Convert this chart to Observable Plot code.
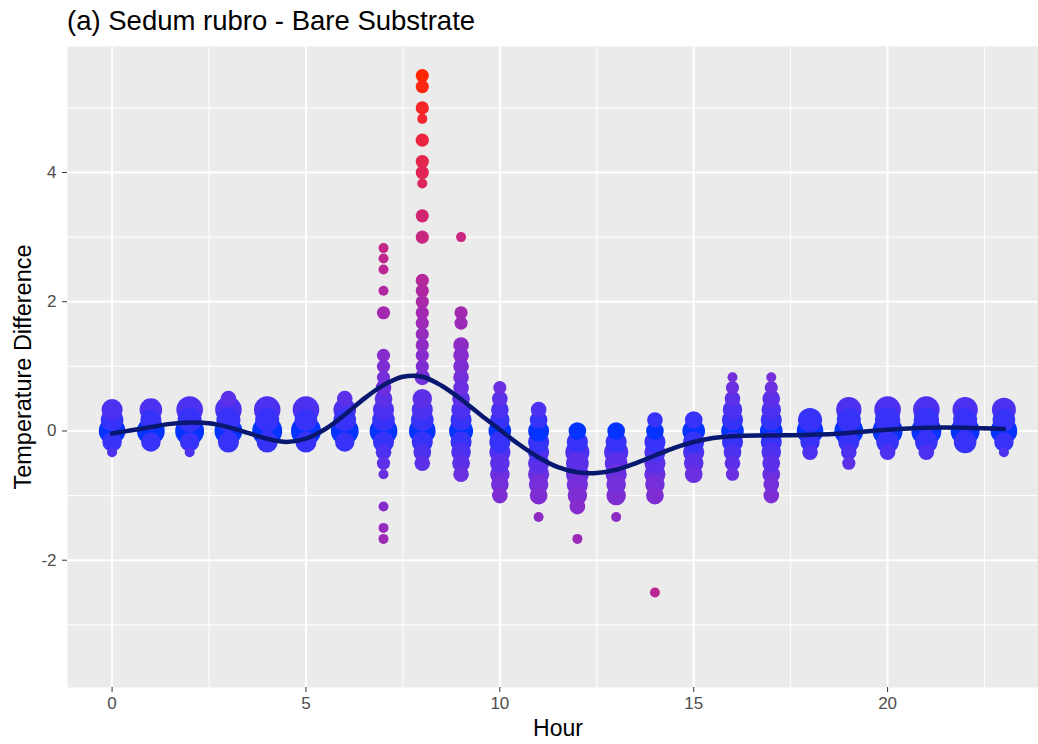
<!DOCTYPE html>
<html>
<head>
<meta charset="utf-8">
<script src="https://cdn.jsdelivr.net/npm/d3@7"></script>
<script src="https://cdn.jsdelivr.net/npm/@observablehq/plot@0.6"></script>
<style>
html, body { margin: 0; padding: 0; background: #fff; overflow: hidden; }
#title { height: 40px; box-sizing: border-box; padding: 9px 0 0 67px; font: 27.5px/24px "Liberation Sans", Arial, sans-serif; color: #000; white-space: nowrap; }
</style>
</head>
<body>
<div id="title">(a) Sedum rubro - Bare Substrate</div>
<div id="chart"></div>
<script>
// Hours of the day
const hours = [0,1,2,3,4,5,6,7,8,9,10,11,12,13,14,15,16,17,18,19,20,21,22,23];

// Distinct temperature differences observed at each hour
const values = [
  [0.33,0.17,0,-0.17,-0.33],
  [0.33,0.17,0,-0.17],
  [0.33,0.17,0,-0.17,-0.33],
  [0.5,0.33,0.17,0,-0.17],
  [0.33,0.17,0,-0.17],
  [0.33,0.17,0,-0.17],
  [0.5,0.33,0.17,0,-0.17],
  [2.83,2.67,2.5,2.17,1.83,1.17,1,0.83,0.67,0.5,0.33,0.17,0,-0.17,-0.33,-0.5,-0.67,-1.17,-1.5,-1.67],
  [5.5,5.33,5,4.83,4.5,4.17,4,3.83,3.33,3,2.33,2.17,2,1.83,1.67,1.5,1.33,1.17,1,0.83,0.5,0.33,0.17,0,-0.17,-0.33,-0.5],
  [3,1.83,1.67,1.33,1.17,1,0.83,0.67,0.5,0.33,0.17,0,-0.17,-0.33,-0.5,-0.67],
  [0.67,0.5,0.33,0.17,0,-0.17,-0.33,-0.5,-0.67,-0.83,-1],
  [0.33,0.17,0,-0.17,-0.33,-0.5,-0.67,-0.83,-1,-1.33],
  [0,-0.17,-0.33,-0.5,-0.67,-0.83,-1,-1.17,-1.67],
  [0,-0.17,-0.33,-0.5,-0.67,-0.83,-1,-1.33],
  [0.17,0,-0.17,-0.33,-0.5,-0.67,-0.83,-1,-2.5],
  [0.17,0,-0.17,-0.33,-0.5,-0.67],
  [0.83,0.67,0.5,0.33,0.17,0,-0.17,-0.33,-0.5,-0.67],
  [0.83,0.67,0.5,0.33,0.17,0,-0.17,-0.33,-0.5,-0.67,-0.83,-1],
  [0.17,0,-0.17,-0.33],
  [0.33,0.17,0,-0.17,-0.33,-0.5],
  [0.33,0.17,0,-0.17,-0.33],
  [0.33,0.17,0,-0.17,-0.33],
  [0.33,0.17,0,-0.17],
  [0.33,0.17,0,-0.17,-0.33]
];

// Number of observations for each of those values
const counts = [
  [6,7,10,5,1],
  [7,6,11,5],
  [10,8,12,5,1],
  [3,10,8,11,6],
  [10,8,13,6],
  [10,7,13,6],
  [3,7,7,11,5],
  [1,1,1,1,2,2,2,2,3,4,6,7,11,6,3,2,1,1,1,1],
  [2,2,2,1,2,2,2,1,2,2,2,2,2,2,2,2,2,2,2,3,5,6,7,10,6,4,3],
  [1,2,2,3,3,3,3,3,4,5,6,8,6,5,4,3],
  [2,3,4,5,7,6,6,5,5,4,3],
  [3,4,6,6,6,6,6,5,4,1],
  [4,6,8,7,7,6,5,3,1],
  [4,6,8,7,6,5,5,1],
  [3,4,6,6,6,6,5,4,1],
  [4,7,6,6,5,4],
  [1,2,3,5,6,7,6,4,3,2],
  [1,2,4,5,6,7,6,5,4,4,3,3],
  [8,10,5,3],
  [9,8,12,6,3,2],
  [10,9,13,7,3],
  [10,9,13,7,3],
  [9,8,12,7],
  [8,7,10,5,1]
];

// Smoothed trend
const smoothHour = [0,0.5,1,1.5,2,2.5,3,3.5,4,4.5,5,5.5,6,6.5,7,7.5,8,8.5,9,9.5,10,10.5,11,11.5,12,12.5,13,13.5,14,14.5,15,15.5,16,17,18,19,20,21,22,23];
const smoothDiff = [-0.04,0.01,0.06,0.11,0.13,0.12,0.06,-0.03,-0.12,-0.17,-0.12,0.03,0.25,0.5,0.71,0.84,0.84,0.7,0.49,0.25,0.02,-0.21,-0.41,-0.56,-0.64,-0.65,-0.6,-0.5,-0.38,-0.26,-0.17,-0.11,-0.08,-0.07,-0.06,-0.03,0.02,0.05,0.05,0.03];

// Axis ticks
const xTicks = [0,5,10,15,20];
const xMinor = [2.5,7.5,12.5,17.5,22.5];
const yTicks = [-2,0,2,4];
const yMinor = [-3,-1,1,3,5];

const rows = [];
hours.forEach((h, i) => values[i].forEach((v, j) => rows.push({hour: h, diff: v, n: counts[i][j]})));
rows.sort((a, b) => Math.abs(b.diff) - Math.abs(a.diff));
const smooth = smoothHour.map((h, i) => ({hour: h, diff: smoothDiff[i]}));

const chart = Plot.plot({
  width: 1038,
  height: 704,
  marginTop: 6,
  marginBottom: 57,
  marginLeft: 67,
  marginRight: -10,
  style: {fontFamily: '"Liberation Sans", Arial, sans-serif', background: "#fff", color: "#4D4D4D"},
  x: {domain: [-1.15, 24.15]},
  y: {domain: [-3.97, 5.95]},
  r: {type: "pow", exponent: 0.5, domain: [1, 13], range: [5, 15]},
  color: {type: "linear", domain: [0, 5.5], range: ["#0433FF", "#FF2600"], interpolate: "lab"},
  marks: [
    Plot.frame({fill: "#EBEBEB", stroke: "none"}),
    Plot.gridX(xMinor, {stroke: "#fff", strokeOpacity: 1, strokeWidth: 1}),
    Plot.gridY(yMinor, {stroke: "#fff", strokeOpacity: 1, strokeWidth: 1}),
    Plot.gridX(xTicks, {stroke: "#fff", strokeOpacity: 1, strokeWidth: 2}),
    Plot.gridY(yTicks, {stroke: "#fff", strokeOpacity: 1, strokeWidth: 2}),
    Plot.dot(rows, {x: "hour", y: "diff", r: "n", fill: d => Math.abs(d.diff), stroke: "none"}),
    Plot.line(smooth, {x: "hour", y: "diff", stroke: "#08176F", strokeWidth: 4.5, curve: "catmull-rom"}),
    Plot.axisX(xTicks, {tickSize: 5, tickPadding: 4, fontSize: 17, stroke: "#333333", label: null}),
    Plot.axisY(yTicks, {tickSize: 5, tickPadding: 6, fontSize: 17, stroke: "#333333", label: null,
      tickFormat: d => d < 0 ? "-" + Math.abs(d) : String(d)}),
    Plot.text(["Hour"], {frameAnchor: "bottom", dy: 41, lineAnchor: "middle", fontSize: 23, fill: "#000"}),
    Plot.text(["Temperature Difference"], {frameAnchor: "left", dx: -44, rotate: -90, textAnchor: "middle", lineAnchor: "middle", fontSize: 23.5, fill: "#000"})
  ]
});
document.getElementById("chart").appendChild(chart);
</script>
</body>
</html>
